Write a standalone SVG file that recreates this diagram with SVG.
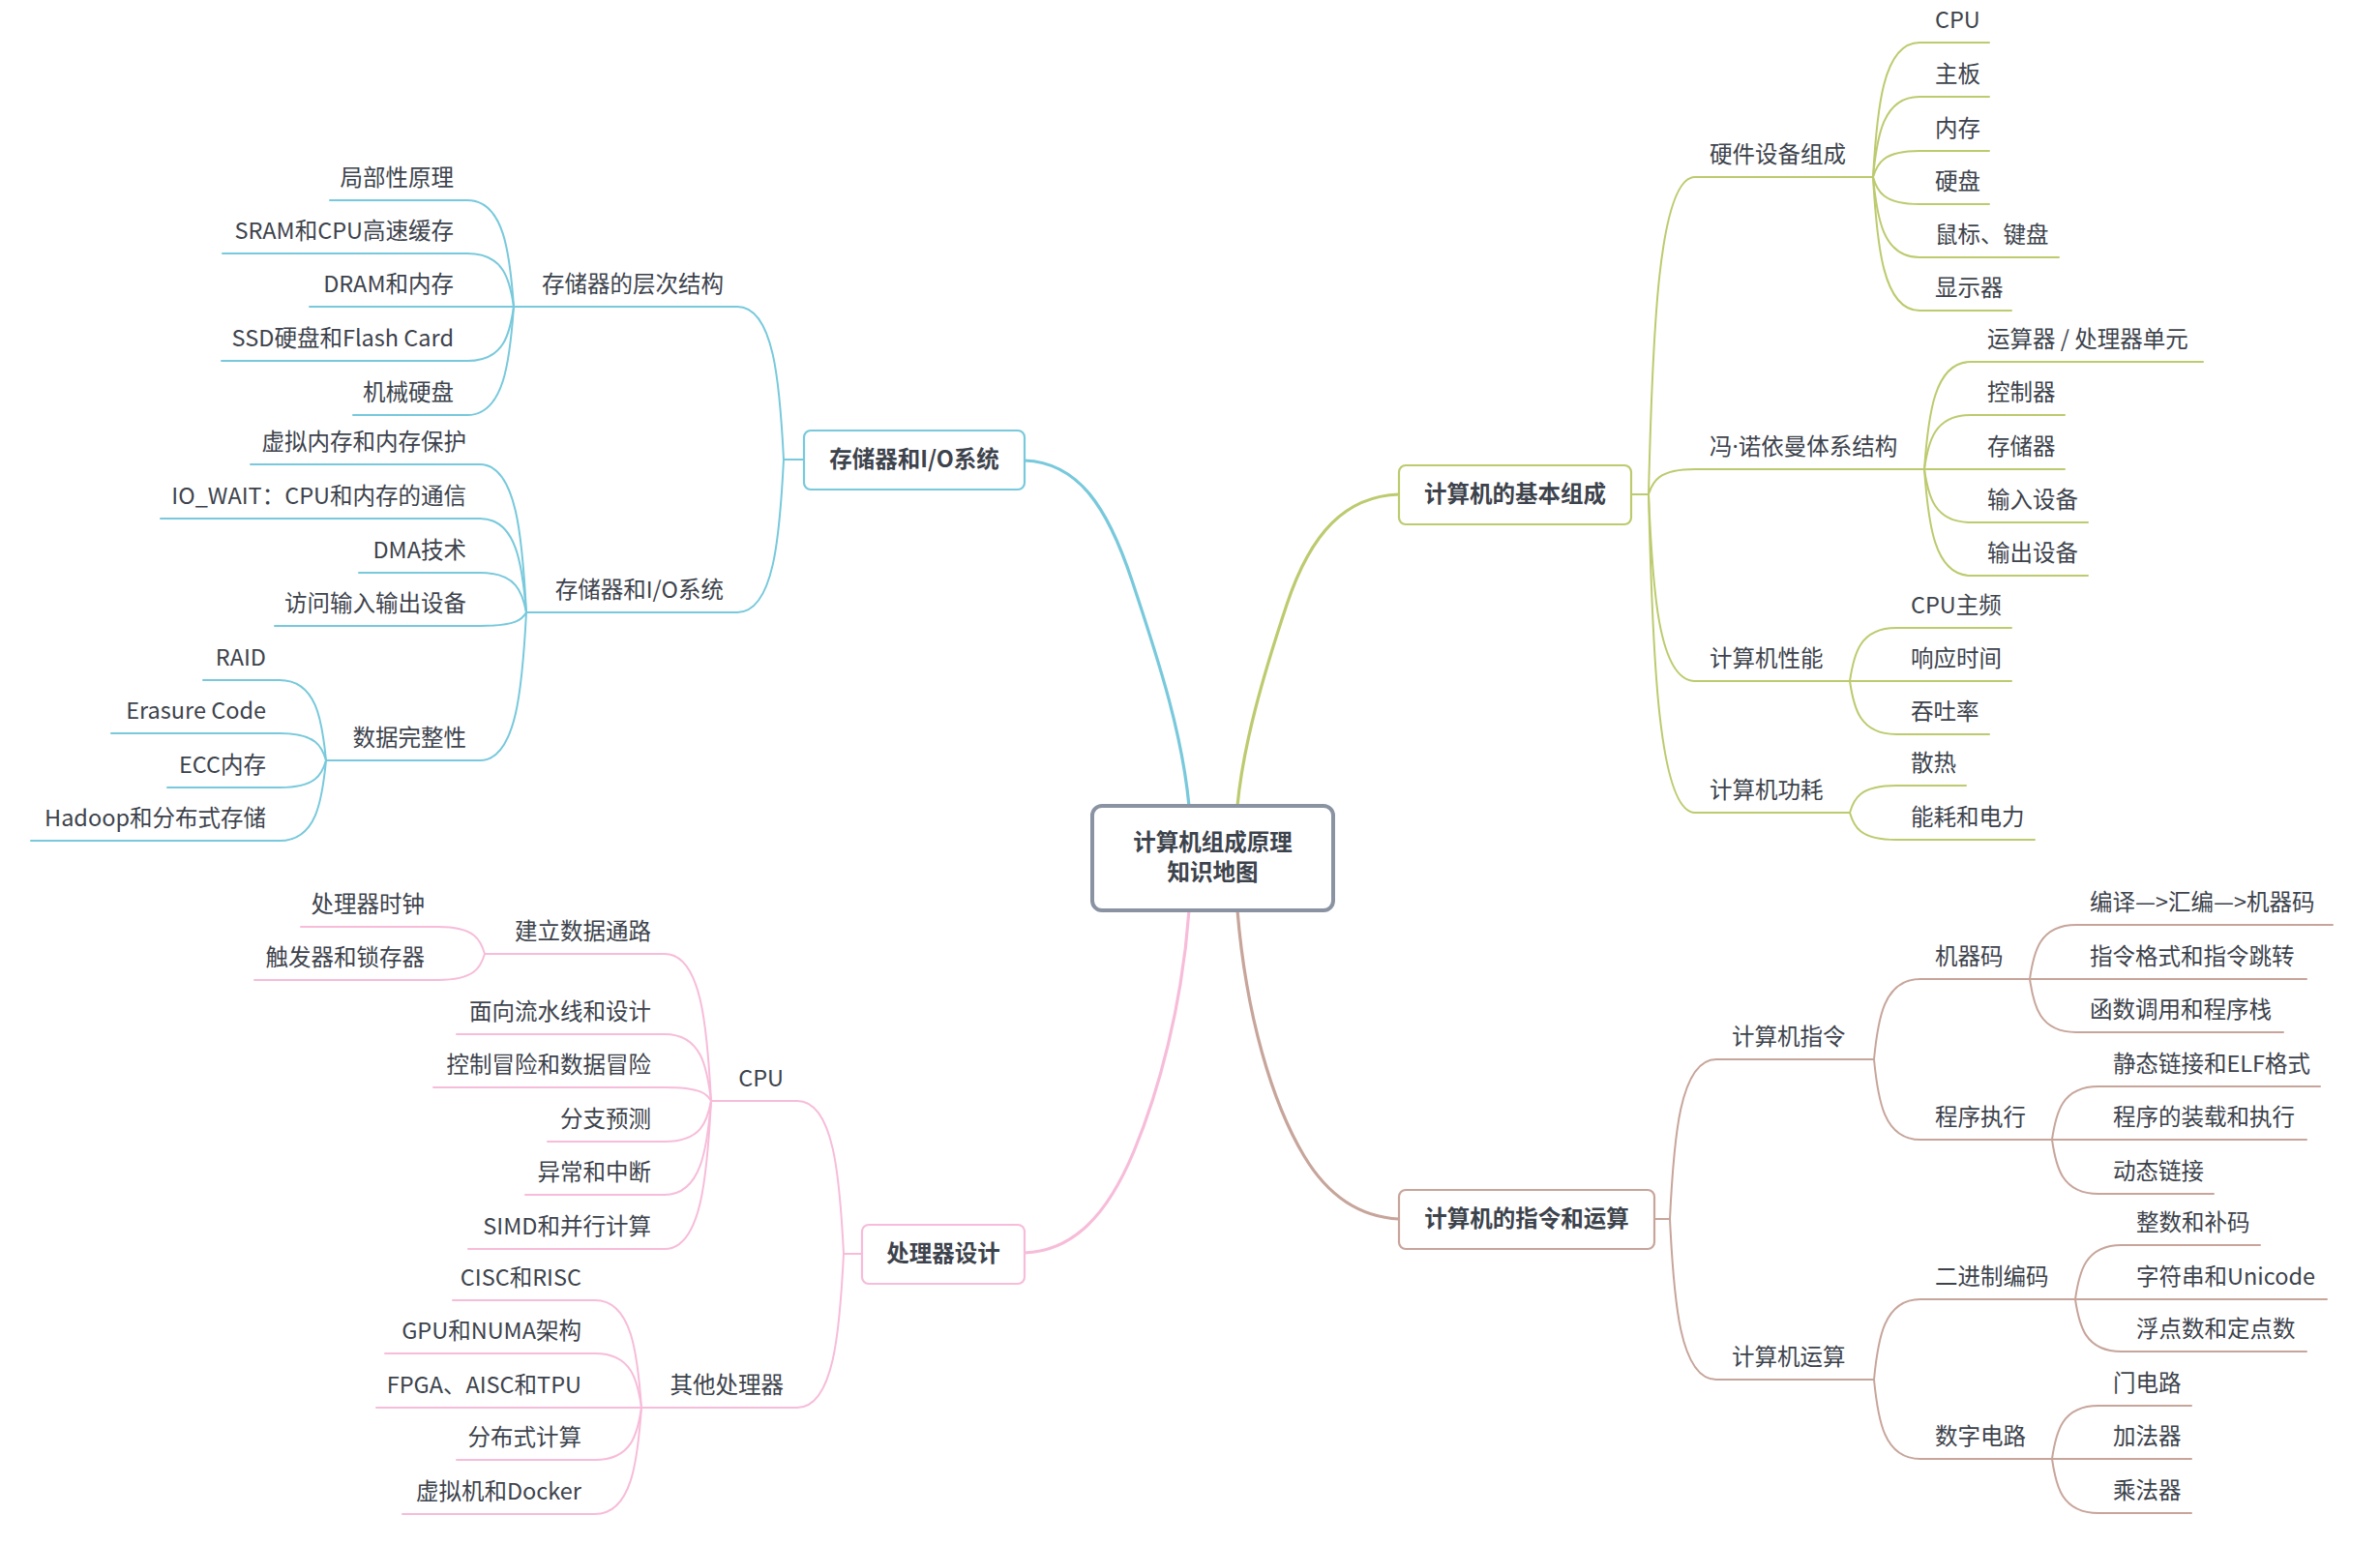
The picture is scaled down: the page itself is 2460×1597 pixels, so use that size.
<svg xmlns="http://www.w3.org/2000/svg" width="2460" height="1597" viewBox="0 0 2460 1597">
<style>
text{font-family:"Noto Sans CJK SC","Noto Sans",sans-serif;font-size:23.5px;fill:#3d434c}
.l{text-anchor:end}
.m{text-anchor:middle;font-weight:bold}
.dot{font-family:"Noto Sans","DejaVu Sans",sans-serif}
path{fill:none;stroke-width:2;stroke-linecap:round}
.b{stroke:#78c9dc}.g{stroke:#bdca6e}.p{stroke:#f7bcd9}.r{stroke:#c7a59b}
.main{stroke-width:3.2}
.box{fill:#fff;stroke-width:2.2}
</style>
<rect width="2460" height="1597" fill="#fff"/>
<g id="connectors">
<path class="b main" d="M1059,476 C1115,478 1145,525 1170,600 C1200,690 1222,760 1229,833"/>
<path class="g main" d="M1446,511 C1391,513 1355,550 1330,625 C1305,700 1285,770 1279,833"/>
<path class="p main" d="M1059,1295 C1110,1293 1145,1255 1172,1190 C1197,1130 1222,1040 1229,941"/>
<path class="r main" d="M1446,1260 C1405,1258 1372,1235 1348,1195 C1315,1140 1288,1050 1279,941"/>
<path class="b" d="M831,475 H810"/>
<path class="b" d="M810,475 C806,396 800,317 762,317 H531"/>
<path class="b" d="M810,475 C806,554 800,633 762,633 H544"/>
<path class="b" d="M531,317 C527,262 521,207 483,207 H341"/>
<path class="b" d="M531,317 C527,289.5 521,262 483,262 H230"/>
<path class="b" d="M531,317 H320"/>
<path class="b" d="M531,317 C527,345 521,373 483,373 H229"/>
<path class="b" d="M531,317 C527,373 521,429 483,429 H365"/>
<path class="b" d="M544,633 C540,556.5 534,480 496,480 H259"/>
<path class="b" d="M544,633 C540,584.5 534,536 496,536 H166"/>
<path class="b" d="M544,633 C540,612.5 534,592 496,592 H371"/>
<path class="b" d="M544,633 C540,640 534,647 496,647 H284"/>
<path class="b" d="M544,633 C540,709.5 534,786 496,786 H337"/>
<path class="b" d="M337,786 C333,744.5 327,703 289,703 H210"/>
<path class="b" d="M337,786 C333,772 327,758 289,758 H115"/>
<path class="b" d="M337,786 C333,800 327,814 289,814 H173"/>
<path class="b" d="M337,786 C333,827.5 327,869 289,869 H32"/>
<path class="p" d="M891,1296 H872"/>
<path class="p" d="M872,1296 C868,1217 862,1138 824,1138 H735"/>
<path class="p" d="M872,1296 C868,1375.5 862,1455 824,1455 H663"/>
<path class="p" d="M735,1138 C731,1062 725,986 687,986 H501"/>
<path class="p" d="M735,1138 C731,1103.5 725,1069 687,1069 H472"/>
<path class="p" d="M735,1138 C731,1131 725,1124 687,1124 H448"/>
<path class="p" d="M735,1138 C731,1159 725,1180 687,1180 H566"/>
<path class="p" d="M735,1138 C731,1186.5 725,1235 687,1235 H543"/>
<path class="p" d="M735,1138 C731,1214.5 725,1291 687,1291 H484"/>
<path class="p" d="M501,986 C497,972 491,958 453,958 H311"/>
<path class="p" d="M501,986 C497,999.5 491,1013 453,1013 H263"/>
<path class="p" d="M663,1455 C659,1399.5 653,1344 615,1344 H468"/>
<path class="p" d="M663,1455 C659,1427 653,1399 615,1399 H398"/>
<path class="p" d="M663,1455 H389"/>
<path class="p" d="M663,1455 C659,1482 653,1509 615,1509 H472"/>
<path class="p" d="M663,1455 C659,1510 653,1565 615,1565 H416"/>
<path class="g" d="M1686,511 H1704"/>
<path class="g" d="M1704,511 C1708,347 1714,183 1752,183 H1936"/>
<path class="g" d="M1704,511 C1708,498 1714,485 1752,485 H1989"/>
<path class="g" d="M1704,511 C1708,607.5 1714,704 1752,704 H1912"/>
<path class="g" d="M1704,511 C1708,675.5 1714,840 1752,840 H1912"/>
<path class="g" d="M1936,183 C1940,113.5 1946,44 1984,44 H2056"/>
<path class="g" d="M1936,183 C1940,141.5 1946,100 1984,100 H2056"/>
<path class="g" d="M1936,183 C1940,169.5 1946,156 1984,156 H2056"/>
<path class="g" d="M1936,183 C1940,197 1946,211 1984,211 H2056"/>
<path class="g" d="M1936,183 C1940,224.5 1946,266 1984,266 H2128"/>
<path class="g" d="M1936,183 C1940,252 1946,321 1984,321 H2079"/>
<path class="g" d="M1989,485 C1993,429.5 1999,374 2037,374 H2277"/>
<path class="g" d="M1989,485 C1993,457 1999,429 2037,429 H2134"/>
<path class="g" d="M1989,485 H2134"/>
<path class="g" d="M1989,485 C1993,512.5 1999,540 2037,540 H2158"/>
<path class="g" d="M1989,485 C1993,540 1999,595 2037,595 H2158"/>
<path class="g" d="M1912,704 C1916,676.5 1922,649 1960,649 H2079"/>
<path class="g" d="M1912,704 H2079"/>
<path class="g" d="M1912,704 C1916,731.5 1922,759 1960,759 H2056"/>
<path class="g" d="M1912,840 C1916,826 1922,812 1960,812 H2032"/>
<path class="g" d="M1912,840 C1916,854 1922,868 1960,868 H2103"/>
<path class="r" d="M1710,1260 H1726"/>
<path class="r" d="M1726,1260 C1730,1177.5 1736,1095 1774,1095 H1937"/>
<path class="r" d="M1726,1260 C1730,1343 1736,1426 1774,1426 H1937"/>
<path class="r" d="M1937,1095 C1941,1053.5 1947,1012 1985,1012 H2098"/>
<path class="r" d="M1937,1095 C1941,1136.5 1947,1178 1985,1178 H2121"/>
<path class="r" d="M2098,1012 C2102,984 2108,956 2146,956 H2411"/>
<path class="r" d="M2098,1012 H2384"/>
<path class="r" d="M2098,1012 C2102,1039.5 2108,1067 2146,1067 H2360"/>
<path class="r" d="M2121,1178 C2125,1150.5 2131,1123 2169,1123 H2398"/>
<path class="r" d="M2121,1178 H2384"/>
<path class="r" d="M2121,1178 C2125,1206 2131,1234 2169,1234 H2288"/>
<path class="r" d="M1937,1426 C1941,1384.5 1947,1343 1985,1343 H2145"/>
<path class="r" d="M1937,1426 C1941,1467 1947,1508 1985,1508 H2121"/>
<path class="r" d="M2145,1343 C2149,1315 2155,1287 2193,1287 H2336"/>
<path class="r" d="M2145,1343 H2405"/>
<path class="r" d="M2145,1343 C2149,1370 2155,1397 2193,1397 H2384"/>
<path class="r" d="M2121,1508 C2125,1480.5 2131,1453 2169,1453 H2265"/>
<path class="r" d="M2121,1508 H2265"/>
<path class="r" d="M2121,1508 C2125,1536 2131,1564 2169,1564 H2265"/>
</g>
<g id="root"><rect x="1129" y="833" width="249" height="108" rx="10" fill="#fff" stroke="#8a93a2" stroke-width="4"/><text class="m" x="1253.5" y="879">计算机组成原理</text><text class="m" x="1253.5" y="910">知识地图</text></g>
<g id="n-storage"><rect class="box b" x="831" y="445" width="228" height="61" rx="7"/><text class="m" x="945" y="483">存储器和I/O系统</text></g>
<g id="n-basic"><rect class="box g" x="1446" y="481" width="240" height="61" rx="7"/><text class="m" x="1566" y="519">计算机的基本组成</text></g>
<g id="n-cpu-design"><rect class="box p" x="891" y="1266" width="168" height="61" rx="7"/><text class="m" x="975" y="1304">处理器设计</text></g>
<g id="n-instr"><rect class="box r" x="1446" y="1230" width="264" height="61" rx="7"/><text class="m" x="1578" y="1268">计算机的指令和运算</text></g>
<g id="n-hier"><text class="l" x="748" y="302">存储器的层次结构</text></g>
<g id="n-io"><text class="l" x="748" y="618">存储器和I/O系统</text></g>
<g id="n-s1"><text class="l" x="469" y="192">局部性原理</text></g>
<g id="n-s2"><text class="l" x="469" y="247">SRAM和CPU高速缓存</text></g>
<g id="n-s3"><text class="l" x="469" y="302">DRAM和内存</text></g>
<g id="n-s4"><text class="l" x="469" y="358">SSD硬盘和Flash Card</text></g>
<g id="n-s5"><text class="l" x="469" y="414">机械硬盘</text></g>
<g id="n-i1"><text class="l" x="482" y="465">虚拟内存和内存保护</text></g>
<g id="n-i2"><text class="l" x="482" y="521">IO_WAIT：CPU和内存的通信</text></g>
<g id="n-i3"><text class="l" x="482" y="577">DMA技术</text></g>
<g id="n-i4"><text class="l" x="482" y="632">访问输入输出设备</text></g>
<g id="n-i5"><text class="l" x="482" y="771">数据完整性</text></g>
<g id="n-d1"><text class="l" x="275" y="688">RAID</text></g>
<g id="n-d2"><text class="l" x="275" y="743">Erasure Code</text></g>
<g id="n-d3"><text class="l" x="275" y="799">ECC内存</text></g>
<g id="n-d4"><text class="l" x="275" y="854">Hadoop和分布式存储</text></g>
<g id="n-cpu"><text class="l" x="810" y="1123">CPU</text></g>
<g id="n-other"><text class="l" x="810" y="1440">其他处理器</text></g>
<g id="n-c1"><text class="l" x="673" y="971">建立数据通路</text></g>
<g id="n-c2"><text class="l" x="673" y="1054">面向流水线和设计</text></g>
<g id="n-c3"><text class="l" x="673" y="1109">控制冒险和数据冒险</text></g>
<g id="n-c4"><text class="l" x="673" y="1165">分支预测</text></g>
<g id="n-c5"><text class="l" x="673" y="1220">异常和中断</text></g>
<g id="n-c6"><text class="l" x="673" y="1276">SIMD和并行计算</text></g>
<g id="n-c11"><text class="l" x="439" y="943">处理器时钟</text></g>
<g id="n-c12"><text class="l" x="439" y="998">触发器和锁存器</text></g>
<g id="n-o1"><text class="l" x="601" y="1329">CISC和RISC</text></g>
<g id="n-o2"><text class="l" x="601" y="1384">GPU和NUMA架构</text></g>
<g id="n-o3"><text class="l" x="601" y="1440">FPGA、AISC和TPU</text></g>
<g id="n-o4"><text class="l" x="601" y="1494">分布式计算</text></g>
<g id="n-o5"><text class="l" x="601" y="1550">虚拟机和Docker</text></g>
<g id="n-hw"><text x="1767" y="168">硬件设备组成</text></g>
<g id="n-von"><text x="1767" y="470">冯<tspan class="dot">·</tspan>诺依曼体系结构</text></g>
<g id="n-perf"><text x="1767" y="689">计算机性能</text></g>
<g id="n-power"><text x="1767" y="825">计算机功耗</text></g>
<g id="n-h1"><text x="2000" y="29">CPU</text></g>
<g id="n-h2"><text x="2000" y="85">主板</text></g>
<g id="n-h3"><text x="2000" y="141">内存</text></g>
<g id="n-h4"><text x="2000" y="196">硬盘</text></g>
<g id="n-h5"><text x="2000" y="251">鼠标、键盘</text></g>
<g id="n-h6"><text x="2000" y="306">显示器</text></g>
<g id="n-v1"><text x="2054" y="359">运算器 / 处理器单元</text></g>
<g id="n-v2"><text x="2054" y="414">控制器</text></g>
<g id="n-v3"><text x="2054" y="470">存储器</text></g>
<g id="n-v4"><text x="2054" y="525">输入设备</text></g>
<g id="n-v5"><text x="2054" y="580">输出设备</text></g>
<g id="n-p1"><text x="1975" y="634">CPU主频</text></g>
<g id="n-p2"><text x="1975" y="689">响应时间</text></g>
<g id="n-p3"><text x="1975" y="744">吞吐率</text></g>
<g id="n-w1"><text x="1975" y="797">散热</text></g>
<g id="n-w2"><text x="1975" y="853">能耗和电力</text></g>
<g id="n-ins"><text x="1790" y="1080">计算机指令</text></g>
<g id="n-ops"><text x="1790" y="1411">计算机运算</text></g>
<g id="n-mc"><text x="2000" y="997">机器码</text></g>
<g id="n-exe"><text x="2000" y="1163">程序执行</text></g>
<g id="n-bin"><text x="2000" y="1328">二进制编码</text></g>
<g id="n-dig"><text x="2000" y="1493">数字电路</text></g>
<g id="n-m1"><text x="2160" y="941">编译—&gt;汇编—&gt;机器码</text></g>
<g id="n-m2"><text x="2160" y="997">指令格式和指令跳转</text></g>
<g id="n-m3"><text x="2160" y="1052">函数调用和程序栈</text></g>
<g id="n-e1"><text x="2184" y="1108">静态链接和ELF格式</text></g>
<g id="n-e2"><text x="2184" y="1163">程序的装载和执行</text></g>
<g id="n-e3"><text x="2184" y="1219">动态链接</text></g>
<g id="n-b1"><text x="2208" y="1272">整数和补码</text></g>
<g id="n-b2"><text x="2208" y="1328">字符串和Unicode</text></g>
<g id="n-b3"><text x="2208" y="1382">浮点数和定点数</text></g>
<g id="n-g1"><text x="2184" y="1438">门电路</text></g>
<g id="n-g2"><text x="2184" y="1493">加法器</text></g>
<g id="n-g3"><text x="2184" y="1549">乘法器</text></g>
</svg>
